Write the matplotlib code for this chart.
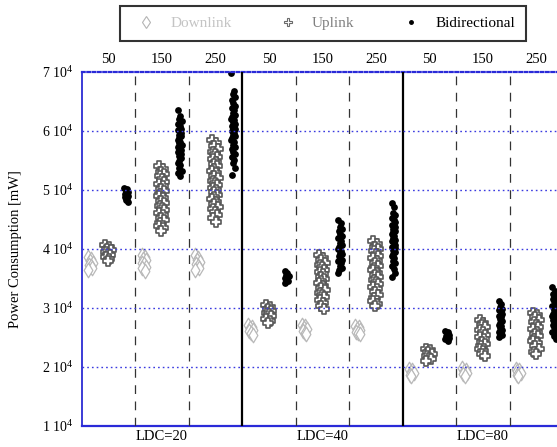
import numpy as np
import matplotlib
matplotlib.use('Agg')
import matplotlib.pyplot as plt
from matplotlib.lines import Line2D

plt.rcParams['font.family'] = ['Liberation Serif', 'DejaVu Serif']
plt.rcParams['mathtext.fontset'] = 'custom'
plt.rcParams['mathtext.rm'] = 'Liberation Serif'

LDC = ['LDC=20', 'LDC=40', 'LDC=80']
SIZES = ['50', '150', '250']
SERIES = ['Downlink', 'Uplink', 'Bidirectional']

# power consumption in mW, one list per size (50, 150, 250)
down_ldc20 = [[38600, 38300, 37900, 37700, 37300, 37100, 36700, 36400],
              [39000, 38600, 38300, 38100, 37700, 37400, 37000, 36700, 36300],
              [38900, 38500, 38100, 37800, 37500, 37100, 36800, 36400]]
up_ldc20 = [[40600, 40300, 40000, 39800, 39500, 39200, 39000, 38700, 38300, 38000],
            [54000, 53600, 53100, 52700, 52300, 51800, 51400, 51000, 50600, 50100,
             49800, 49300, 48900, 48600, 48100, 47800, 47300, 46900, 46600, 46100,
             45700, 45200, 44900, 44400, 43900, 43500, 43000],
            [58400, 57900, 57400, 57000, 56500, 56100, 55600, 55200, 54800, 54400,
             54000, 53600, 53200, 52800, 52400, 52000, 51600, 51200, 50800, 50400,
             50000, 49600, 49200, 48800, 48400, 48000, 47600, 47200, 46700, 46200,
             45700, 45200, 44600]]
bi_ldc20 = [[50300, 50100, 49800, 49600, 49400, 49200, 49000, 48800, 48600, 48300, 48000],
            [63600, 62600, 62100, 61700, 61200, 60800, 60400, 60100, 59700, 59400,
             59100, 58800, 58500, 58200, 57900, 57600, 57300, 57000, 56700, 56400,
             56100, 55800, 55400, 55000, 54600, 54200, 53800, 53300, 52900, 52400],
            [69900, 66700, 66200, 65700, 65200, 64700, 64300, 63900, 63500, 63100,
             62700, 62400, 62100, 61800, 61500, 61200, 60900, 60600, 60300, 60000,
             59700, 59400, 59100, 58800, 58500, 58100, 57700, 57300, 56900, 56500,
             56100, 55600, 55100, 54600, 53700, 52600]]

down_ldc40 = [[27100, 26800, 26600, 26300, 26100, 25800, 25500],
              [27100, 26900, 26600, 26400, 26100, 25800, 25600],
              [27000, 26800, 26500, 26300, 26000, 25800, 25600]]
up_ldc40 = [[30500, 30200, 29800, 29500, 29200, 28900, 28600, 28200, 27800, 27400],
            [38900, 38500, 38100, 37700, 37300, 36900, 36500, 36100, 35700, 35300,
             34900, 34600, 34200, 33800, 33400, 33000, 32600, 32200, 31800, 31300,
             30800, 30300, 29800],
            [41300, 40900, 40400, 40000, 39600, 39200, 38800, 38400, 38000, 37600,
             37200, 36800, 36400, 36000, 35600, 35200, 34800, 34400, 34000, 33600,
             33200, 32700, 32200, 31700, 31200, 30700, 30300]]
bi_ldc40 = [[36200, 35900, 35600, 35400, 35100, 34900, 34600, 34300],
            [44900, 44400, 43800, 43400, 43000, 42600, 42200, 41800, 41400, 41000,
             40600, 40300, 40000, 39700, 39400, 39100, 38800, 38500, 38200, 37900,
             37600, 37200, 36800, 36400, 35900],
            [47800, 47200, 46100, 45700, 45300, 44900, 44500, 44100, 43700, 43400,
             43100, 42800, 42500, 42200, 41900, 41600, 41300, 41000, 40700, 40400,
             40100, 39800, 39500, 39200, 38800, 38400, 38000, 37600, 37100, 36600,
             35900, 35200]]

down_ldc80 = [[19700, 19500, 19200, 19000, 18700, 18400],
              [19800, 19500, 19300, 19000, 18800, 18500],
              [19700, 19500, 19300, 19000, 18700, 18500]]
up_ldc80 = [[23100, 22800, 22500, 22200, 21900, 21600, 21300, 21000],
            [27900, 27500, 27100, 26700, 26300, 25900, 25500, 25100, 24700, 24300,
             23900, 23500, 23100, 22700, 22200, 21800],
            [29200, 28800, 28400, 28000, 27600, 27200, 26800, 26400, 26000, 25600,
             25200, 24800, 24400, 24000, 23600, 23100, 22600, 22200]]
bi_ldc80 = [[26100, 25900, 25700, 25500, 25300, 25100, 24900, 24700, 24400],
            [31200, 30700, 30200, 29900, 29600, 29300, 29000, 28700, 28400, 28100,
             27800, 27500, 27200, 26900, 26600, 26300, 26000, 25700, 25400, 25100],
            [33600, 32900, 32400, 32000, 31600, 31200, 30800, 30400, 30000, 29600,
             29200, 28900, 28600, 28300, 28000, 27600, 27200, 26800, 26400, 26000,
             25600, 25200, 24800]]

data = {'Downlink': [down_ldc20, down_ldc40, down_ldc80],
        'Uplink': [up_ldc20, up_ldc40, up_ldc80],
        'Bidirectional': [bi_ldc20, bi_ldc40, bi_ldc80]}

# where each series sits inside one size slot, and how wide its cloud is
offs = {'Downlink': 0.16, 'Uplink': 0.49, 'Bidirectional': 0.83}
half = {'Downlink': 0.045, 'Uplink': 0.05, 'Bidirectional': 0.035}
jit = np.array([-1.0, 0.4, -0.3, 1.0, -0.7, 0.1, 0.8, -0.9, 0.5, -0.2, 0.9, -0.5])
style = {'Downlink': dict(marker='d', s=55, facecolors='white', edgecolors='#b8b8b8', linewidths=0.9),
         'Uplink': dict(marker='P', s=50, facecolors='white', edgecolors='#585858', linewidths=1.2),
         'Bidirectional': dict(marker='o', s=24, color='black', linewidths=0)}

fig = plt.figure(figsize=(5.57, 4.47), dpi=100)
ax = fig.add_axes([81.9 / 557, 21 / 447, 481.2 / 557, 354 / 447])

for g in range(len(LDC)):
    for s in range(len(SIZES)):
        slot = 3 * g + s
        for name in SERIES:
            vals = np.array(data[name][g][s])
            dx = np.resize(jit, len(vals)) * half[name]
            ax.scatter(slot + offs[name] + dx, vals, zorder=2, **style[name])

ax.set_xlim(0, 9)
ax.set_ylim(1e4, 7e4)

# separators
for x in [1, 2, 4, 5, 7, 8]:
    ax.axvline(x, color='#333333', lw=0.9, ls=(0, (7, 6)), zorder=3)
for x in [3, 6]:
    ax.axvline(x, color='black', lw=1.6, zorder=3)

yt = [1e4, 2e4, 3e4, 4e4, 5e4, 6e4, 7e4]
ax.set_yticks(yt, ['%d 10$\\mathregular{^{4}}$' % (t / 1e4) for t in yt])
for t in yt[1:-1]:
    ax.axhline(t, color='#3a3ae0', lw=1.0, ls=(0, (1.2, 2.2)), zorder=3)
ax.tick_params(axis='y', length=0, pad=6, labelsize=10)
ax.set_ylabel('Power Consumption [mW]', fontsize=10.5)
ax.yaxis.set_label_coords(-60 / 481.2, 0.5)

ax.set_xticks([1.5, 4.5, 7.5], LDC)
ax.tick_params(axis='x', length=0, pad=3, labelsize=10.5)

top = ax.twiny()
top.set_xlim(0, 9)
top.set_xticks(np.arange(9) + 0.5, SIZES * 3)
top.tick_params(axis='x', length=0, pad=4, labelsize=10.5)
for sp in top.spines.values():
    sp.set_visible(False)

ax.spines['right'].set_visible(False)
ax.spines['left'].set_color('#1a1ad0')
ax.spines['left'].set_linewidth(1.2)
ax.spines['bottom'].set_color('#2a2ad8')
ax.spines['bottom'].set_linewidth(1.6)
ax.spines['top'].set_color('#2a2ad8')
ax.spines['top'].set_linewidth(1.6)
ax.spines['top'].set_linestyle((0, (1.2, 1.2)))

handles = [Line2D([], [], ls='', marker='d', ms=6, mfc='white', mec='#b4b4b4', mew=0.8),
           Line2D([], [], ls='', marker='P', ms=6, mfc='white', mec='#6a6a6a', mew=0.8),
           Line2D([], [], ls='', marker='o', ms=2.5, color='black')]
leg = fig.legend(handles, SERIES, loc='center', ncol=3, mode='expand',
                 bbox_to_anchor=(119.7 / 557, 1 - 40.9 / 447, 406 / 557, 34.5 / 447),
                 bbox_transform=fig.transFigure, fancybox=False, fontsize=11,
                 handlelength=2.0, handletextpad=0.6, borderaxespad=0, borderpad=0.7)
leg.get_frame().set_edgecolor('black')
leg.get_frame().set_linewidth(1.5)
for t, c in zip(leg.get_texts(), ['#c4c4c4', '#808080', 'black']):
    t.set_color(c)

fig.savefig('out.png', dpi=100)
